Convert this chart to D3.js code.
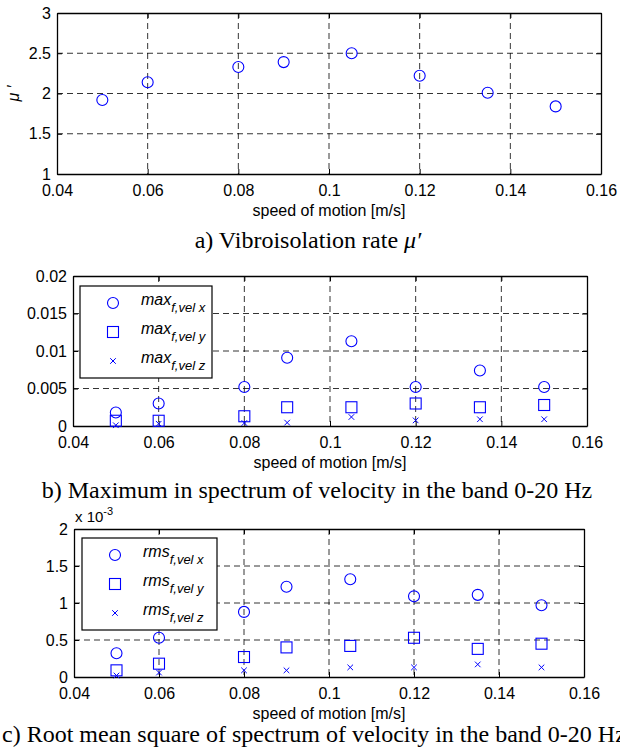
<!DOCTYPE html>
<html>
<head>
<meta charset="utf-8">
<script src="https://cdn.jsdelivr.net/npm/d3@7"></script>
<style>
  body { margin: 0; background: #fff; overflow: hidden; }
  svg { display: block; }
</style>
</head>
<body>
<script>
(function () {
    var speed = [0.05, 0.06, 0.08, 0.09, 0.105, 0.12, 0.135, 0.15];
    var xTicks = [0.04, 0.06, 0.08, 0.1, 0.12, 0.14, 0.16];

    var muRate = [1.92, 2.14, 2.33, 2.39, 2.50, 2.22, 2.01, 1.84];
    var muTicks = [1, 1.5, 2, 2.5, 3];

    var maxVelX = [0.0018, 0.0030, 0.0052, 0.0091, 0.0113, 0.0052, 0.0074, 0.0052];
    var maxVelY = [0.0007, 0.0007, 0.0013, 0.0025, 0.0025, 0.0030, 0.0025, 0.0028];
    var maxVelZ = [0.0001, 0.0003, 0.0004, 0.00045, 0.0012, 0.00075, 0.0009, 0.0009];
    var maxTicks = [0, 0.005, 0.01, 0.015, 0.02];

    // rms values in units of 1e-3
    var rmsVelX = [0.32, 0.53, 0.88, 1.22, 1.32, 1.09, 1.11, 0.97];
    var rmsVelY = [0.09, 0.18, 0.27, 0.40, 0.42, 0.53, 0.38, 0.45];
    var rmsVelZ = [0.02, 0.06, 0.09, 0.09, 0.13, 0.13, 0.17, 0.13];
    var rmsTicks = [0, 0.5, 1, 1.5, 2];

    var blue = '#0000ff',
        sans = '"Liberation Sans", Arial, sans-serif',
        serif = '"Liberation Serif", "Times New Roman", serif';

    var svg = d3.select('body').append('svg')
        .attr('width', 620)
        .attr('height', 747)
        .attr('font-family', sans);

    function fmt(v) {
        return String(+v.toFixed(4));
    }

    function drawMarker(g, kind, x, y) {
        if (kind === 'circle') {
            g.append('circle')
                .attr('cx', x).attr('cy', y).attr('r', 5.5)
                .attr('fill', 'none').attr('stroke', blue).attr('stroke-width', 1.1);
        } else if (kind === 'square') {
            g.append('rect')
                .attr('x', x - 5.5).attr('y', y - 5.5)
                .attr('width', 11).attr('height', 11)
                .attr('fill', 'none').attr('stroke', blue).attr('stroke-width', 1.1);
        } else {
            var s = 2.8;
            g.append('path')
                .attr('d', 'M' + (x - s) + ',' + (y - s) + 'L' + (x + s) + ',' + (y + s) +
                    'M' + (x - s) + ',' + (y + s) + 'L' + (x + s) + ',' + (y - s))
                .attr('stroke', blue).attr('stroke-width', 1);
        }
    }

    function drawPanel(p) {
        var x = d3.scaleLinear().domain([0.04, 0.16]).range([p.left, p.right]),
            y = d3.scaleLinear().domain(p.yDomain).range([p.bottom, p.top]),
            g = svg.append('g');

        // dashed grid
        g.selectAll('.gx')
            .data(xTicks.slice(1, -1))
            .enter().append('line')
            .attr('x1', function (d) { return x(d); })
            .attr('x2', function (d) { return x(d); })
            .attr('y1', p.top).attr('y2', p.bottom)
            .attr('stroke', '#000').attr('stroke-width', 0.8)
            .attr('stroke-dasharray', '6,4');
        g.selectAll('.gy')
            .data(p.yTicks.slice(1, -1))
            .enter().append('line')
            .attr('y1', function (d) { return y(d); })
            .attr('y2', function (d) { return y(d); })
            .attr('x1', p.left).attr('x2', p.right)
            .attr('stroke', '#000').attr('stroke-width', 0.8)
            .attr('stroke-dasharray', '6,4');

        // axes with inward ticks, all four sides
        var bottomAxis = d3.axisBottom(x).tickValues(xTicks).tickSizeInner(-5).tickSizeOuter(0)
            .tickPadding(11).tickFormat(fmt);
        var leftAxis = d3.axisLeft(y).tickValues(p.yTicks).tickSizeInner(-5).tickSizeOuter(0)
            .tickPadding(6).tickFormat(fmt);
        var topAxis = d3.axisTop(x).tickValues(xTicks).tickSizeInner(-5).tickSizeOuter(0).tickFormat('');
        var rightAxis = d3.axisRight(y).tickValues(p.yTicks).tickSizeInner(-5).tickSizeOuter(0).tickFormat('');

        [
            [bottomAxis, 0, p.bottom],
            [leftAxis, p.left, 0],
            [topAxis, 0, p.top],
            [rightAxis, p.right, 0]
        ].forEach(function (a) {
            var ag = g.append('g')
                .attr('transform', 'translate(' + a[1] + ',' + a[2] + ')')
                .call(a[0]);
            ag.attr('font-family', sans).attr('font-size', 16);
            ag.selectAll('text').attr('fill', '#000');
            ag.selectAll('line').attr('stroke', '#000');
            ag.select('.domain').attr('stroke', '#000').attr('stroke-width', 1.3);
        });

        // series
        p.series.forEach(function (s) {
            s.values.forEach(function (v, i) {
                drawMarker(g, s.kind, x(speed[i]), y(v));
            });
        });

        // legend
        if (p.legend) {
            var lg = g.append('g');
            lg.append('rect')
                .attr('x', p.legend.x).attr('y', p.legend.y)
                .attr('width', p.legend.w).attr('height', p.legend.h)
                .attr('fill', '#fff').attr('stroke', '#000').attr('stroke-width', 1.2);
            p.series.forEach(function (s, i) {
                var ry = p.legend.y + 17 + i * 29;
                drawMarker(lg, s.kind, p.legend.x + 33, ry);
                var t = lg.append('text')
                    .attr('x', p.legend.x + 61).attr('y', ry + 2)
                    .attr('font-size', 16).attr('font-style', 'italic');
                t.append('tspan').text(p.legend.base);
                t.append('tspan').attr('dy', 7).attr('font-size', 13).text(s.sub);
            });
        }

        // x label
        g.append('text')
            .attr('x', (p.left + p.right) / 2).attr('y', p.bottom + 42)
            .attr('text-anchor', 'middle').attr('font-size', 16)
            .text('speed of motion [m/s]');

        // caption
        var cap = g.append('text')
            .attr('x', p.capX).attr('y', p.capY)
            .attr('text-anchor', p.capAnchor || 'middle')
            .attr('font-family', serif)
            .attr('font-size', 24);
        p.caption(cap);
        return { x: x, y: y, g: g };
    }

    var a = drawPanel({
        left: 57, right: 601, top: 13, bottom: 174,
        yDomain: [1, 3], yTicks: muTicks,
        series: [{ kind: 'circle', values: muRate }],
        capX: 308, capY: 248,
        caption: function (t) {
            t.append('tspan').text('a) Vibroisolation rate ');
            t.append('tspan').attr('font-style', 'italic').text('\u03bc\u2032');
        }
    });
    a.g.append('text')
        .attr('transform', 'translate(19,' + ((13 + 174) / 2) + ') rotate(-90)')
        .attr('text-anchor', 'middle').attr('font-size', 16).attr('font-style', 'italic')
        .text('\u03bc \u2032');

    drawPanel({
        left: 73, right: 587, top: 276, bottom: 426,
        yDomain: [0, 0.02], yTicks: maxTicks,
        series: [
            { kind: 'circle', values: maxVelX, sub: 'f,vel x' },
            { kind: 'square', values: maxVelY, sub: 'f,vel y' },
            { kind: 'cross', values: maxVelZ, sub: 'f,vel z' }
        ],
        legend: { x: 80, y: 286, w: 132, h: 92, base: 'max' },
        capX: 317, capY: 498,
        caption: function (t) {
            t.text('b) Maximum in spectrum of velocity in the band 0-20 Hz');
        }
    });

    var c = drawPanel({
        left: 74, right: 584, top: 529, bottom: 677,
        yDomain: [0, 2], yTicks: rmsTicks,
        series: [
            { kind: 'circle', values: rmsVelX, sub: 'f,vel x' },
            { kind: 'square', values: rmsVelY, sub: 'f,vel y' },
            { kind: 'cross', values: rmsVelZ, sub: 'f,vel z' }
        ],
        legend: { x: 82, y: 538, w: 135, h: 92, base: 'rms' },
        capX: 2, capY: 742, capAnchor: 'start',
        caption: function (t) {
            t.text('c) Root mean square of spectrum of velocity in the band 0-20 Hz');
        }
    });
    var exp = c.g.append('text')
        .attr('x', 75).attr('y', 522).attr('font-size', 15);
    exp.append('tspan').text('x 10');
    exp.append('tspan').attr('dy', -7).attr('font-size', 11).text('-3');
}());
</script>
</body>
</html>
